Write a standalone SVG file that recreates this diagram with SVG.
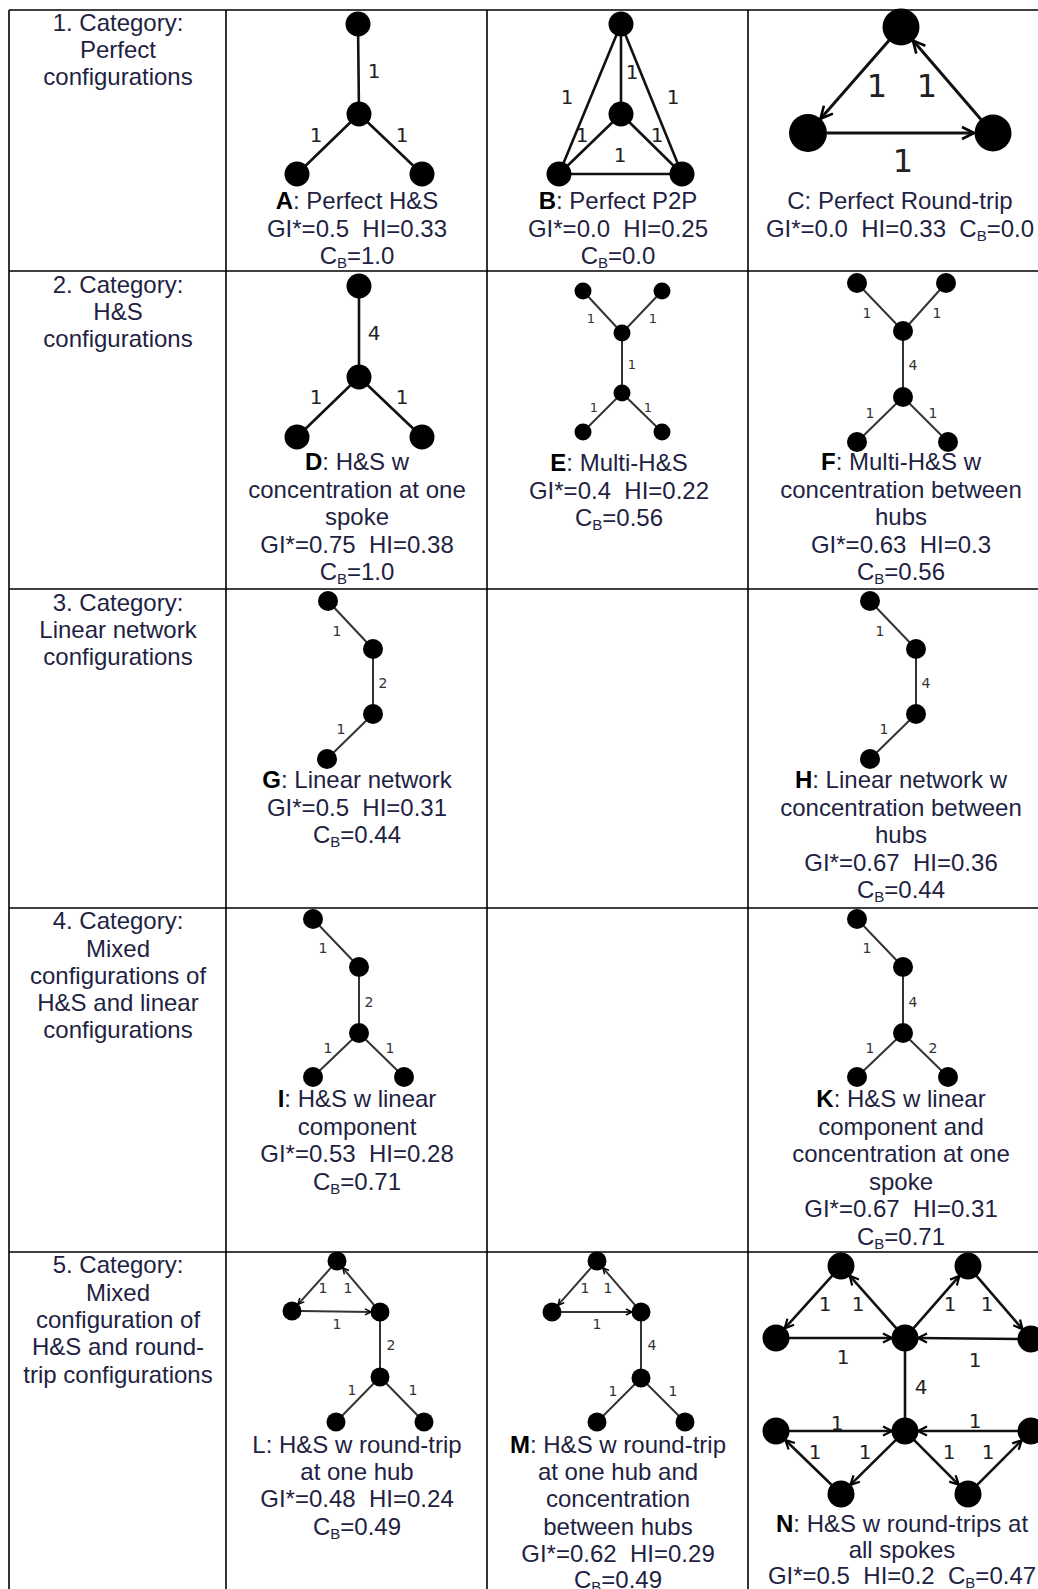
<svg xmlns="http://www.w3.org/2000/svg" width="1038" height="1589" viewBox="0 0 1038 1589">
<style>
.grid{stroke:#000;stroke-width:1.6;fill:none}
.cap{font-family:"Liberation Sans",Arial,sans-serif;font-size:24px;fill:#221f42;text-anchor:middle;white-space:pre}
.b{font-weight:bold;fill:#000}
.sub{font-size:15px}
.n{fill:#000}
.e1{stroke:#111;stroke-width:2.6;fill:none}
.e2{stroke:#333;stroke-width:2;fill:none}
.e3{stroke:#111;stroke-width:3;fill:none}
.lb{font-family:"DejaVu Sans",sans-serif;text-anchor:middle;fill:#222}
.l20{font-size:20px}
.l13{font-size:13px;fill:#333}
.l14{font-size:14px;fill:#333}
.l32{font-size:32px}
</style>
<defs>
<marker id="arL" markerWidth="16" markerHeight="16" refX="13" refY="7" orient="auto" markerUnits="userSpaceOnUse" overflow="visible"><path d="M1,1 L13,7 L1,13" fill="none" stroke="#000" stroke-width="2.6"/></marker>
<marker id="arM" markerWidth="12" markerHeight="12" refX="10" refY="5.5" orient="auto" markerUnits="userSpaceOnUse" overflow="visible"><path d="M1,1 L10,5.5 L1,10" fill="none" stroke="#000" stroke-width="2.2"/></marker>
<marker id="arS" markerWidth="9" markerHeight="9" refX="7" refY="4" orient="auto" markerUnits="userSpaceOnUse" overflow="visible"><path d="M1,1 L7,4 L1,7" fill="none" stroke="#000" stroke-width="1.5"/></marker>
</defs>
<rect width="1038" height="1589" fill="#fff"/>
<g id="grid" class="grid">
<line x1="9" y1="10" x2="1038" y2="10"/>
<line x1="9" y1="271" x2="1038" y2="271"/>
<line x1="9" y1="589" x2="1038" y2="589"/>
<line x1="9" y1="908" x2="1038" y2="908"/>
<line x1="9" y1="1252" x2="1038" y2="1252"/>
<line x1="9" y1="10" x2="9" y2="1589"/>
<line x1="226" y1="10" x2="226" y2="1589"/>
<line x1="487" y1="10" x2="487" y2="1589"/>
<line x1="748" y1="10" x2="748" y2="1589"/>
</g>
<g id="categories" class="cap">
<text><tspan x="118" y="31">1. Category:</tspan><tspan x="118" y="58">Perfect</tspan><tspan x="118" y="85">configurations</tspan></text>
<text><tspan x="118" y="293">2. Category:</tspan><tspan x="118" y="320">H&amp;S</tspan><tspan x="118" y="347">configurations</tspan></text>
<text><tspan x="118" y="611">3. Category:</tspan><tspan x="118" y="638">Linear network</tspan><tspan x="118" y="665">configurations</tspan></text>
<text><tspan x="118" y="929">4. Category:</tspan><tspan x="118" y="957">Mixed</tspan><tspan x="118" y="984">configurations of</tspan><tspan x="118" y="1011">H&amp;S and linear</tspan><tspan x="118" y="1038">configurations</tspan></text>
<text><tspan x="118" y="1273">5. Category:</tspan><tspan x="118" y="1301">Mixed</tspan><tspan x="118" y="1328">configuration of</tspan><tspan x="118" y="1355">H&amp;S and round-</tspan><tspan x="118" y="1383">trip configurations</tspan></text>
</g>
<g id="connectors">
<g id="edges-A" class="e1"><line x1="358" y1="24" x2="359" y2="114"/><line x1="359" y1="114" x2="297" y2="174"/><line x1="359" y1="114" x2="422" y2="174"/></g>
<g id="edges-B" class="e1"><line x1="621" y1="24" x2="621" y2="114"/><line x1="621" y1="24" x2="559" y2="174"/><line x1="621" y1="24" x2="682" y2="174"/><line x1="621" y1="114" x2="559" y2="174"/><line x1="621" y1="114" x2="682" y2="174"/><line x1="559" y1="174" x2="682" y2="174"/></g>
<g id="edges-C" class="e3"><line x1="889" y1="40.5" x2="820.5" y2="118.7" marker-end="url(#arL)"/><line x1="827" y1="133" x2="974" y2="133" marker-end="url(#arL)"/><line x1="981" y1="119.4" x2="913" y2="40.6" marker-end="url(#arL)"/></g>
<g id="edges-D" class="e1"><line x1="359" y1="286" x2="359" y2="377"/><line x1="359" y1="377" x2="297" y2="437"/><line x1="359" y1="377" x2="422" y2="437"/></g>
<g id="edges-E" class="e2"><line x1="583" y1="291" x2="622" y2="333"/><line x1="662" y1="291" x2="622" y2="333"/><line x1="622" y1="333" x2="622" y2="393"/><line x1="622" y1="393" x2="583" y2="432"/><line x1="622" y1="393" x2="662" y2="432"/></g>
<g id="edges-F" class="e2"><line x1="857" y1="283" x2="903" y2="331"/><line x1="946" y1="283" x2="903" y2="331"/><line x1="903" y1="331" x2="903" y2="397"/><line x1="903" y1="397" x2="857" y2="442"/><line x1="903" y1="397" x2="948" y2="442"/></g>
<g id="edges-G" class="e2"><line x1="328" y1="601" x2="373" y2="649"/><line x1="373" y1="649" x2="373" y2="714"/><line x1="373" y1="714" x2="327" y2="759"/></g>
<g id="edges-H" class="e2"><line x1="870" y1="601" x2="916" y2="649"/><line x1="916" y1="649" x2="916" y2="714"/><line x1="916" y1="714" x2="870" y2="759"/></g>
<g id="edges-I" class="e2"><line x1="313" y1="919" x2="359" y2="967"/><line x1="359" y1="967" x2="359" y2="1033"/><line x1="359" y1="1033" x2="313" y2="1077"/><line x1="359" y1="1033" x2="404" y2="1077"/></g>
<g id="edges-K" class="e2"><line x1="857" y1="919" x2="903" y2="967"/><line x1="903" y1="967" x2="903" y2="1033"/><line x1="903" y1="1033" x2="857" y2="1077"/><line x1="903" y1="1033" x2="948" y2="1077"/></g>
<g id="edges-L" class="e2"><line x1="331" y1="1267.7" x2="298" y2="1304.3" marker-end="url(#arS)"/><line x1="301" y1="1311.1" x2="371" y2="1311.9" marker-end="url(#arS)"/><line x1="374.2" y1="1305.1" x2="342.8" y2="1267.9" marker-end="url(#arS)"/><line x1="380" y1="1312" x2="380" y2="1377"/><line x1="380" y1="1377" x2="336" y2="1422"/><line x1="380" y1="1377" x2="424" y2="1422"/></g>
<g id="edges-M" class="e2"><line x1="591" y1="1267.8" x2="558" y2="1305.2" marker-end="url(#arS)"/><line x1="561" y1="1312" x2="632" y2="1312" marker-end="url(#arS)"/><line x1="635.1" y1="1305.2" x2="602.9" y2="1267.8" marker-end="url(#arS)"/><line x1="641" y1="1312" x2="641" y2="1378"/><line x1="641" y1="1378" x2="597" y2="1422"/><line x1="641" y1="1378" x2="685" y2="1422"/></g>
<g id="edges-N" class="e1">
<line x1="832.3" y1="1275.6" x2="784.7" y2="1328.4" marker-end="url(#arM)"/>
<line x1="789" y1="1338" x2="892" y2="1338" marker-end="url(#arM)"/>
<line x1="896.4" y1="1328.3" x2="849.6" y2="1275.7" marker-end="url(#arM)"/>
<line x1="913.6" y1="1328.2" x2="959.4" y2="1275.8" marker-end="url(#arM)"/>
<line x1="976.5" y1="1275.8" x2="1022.5" y2="1329.2" marker-end="url(#arM)"/>
<line x1="1018" y1="1339" x2="918" y2="1338" marker-end="url(#arM)"/>
<line x1="905" y1="1338" x2="905" y2="1431"/>
<line x1="789" y1="1431" x2="892" y2="1431" marker-end="url(#arM)"/>
<line x1="895.7" y1="1440.1" x2="850.3" y2="1484.9" marker-end="url(#arM)"/>
<line x1="831.7" y1="1485" x2="785.3" y2="1440" marker-end="url(#arM)"/>
<line x1="1018" y1="1431" x2="918" y2="1431" marker-end="url(#arM)"/>
<line x1="914.2" y1="1440.2" x2="958.8" y2="1484.8" marker-end="url(#arM)"/>
<line x1="977.2" y1="1484.8" x2="1021.8" y2="1440.2" marker-end="url(#arM)"/>
</g>
</g>
<g id="panel-A">
<g class="n"><circle id="A1" cx="358" cy="24" r="12.5"/><circle id="A2" cx="359" cy="114" r="12.5"/><circle id="A3" cx="297" cy="174" r="12.5"/><circle id="A4" cx="422" cy="174" r="12.5"/></g>
<g class="lb l20"><text x="374" y="78">1</text><text x="316" y="142">1</text><text x="402" y="142">1</text></g>
<text class="cap"><tspan x="357" y="209"><tspan class="b">A</tspan>: Perfect H&amp;S</tspan><tspan x="357" y="236.5">GI*=0.5  HI=0.33</tspan><tspan x="357" y="264">C<tspan class="sub" dy="4">B</tspan><tspan dy="-4">=1.0</tspan></tspan></text>
</g>
<g id="panel-B">
<g class="n"><circle id="B1" cx="621" cy="24" r="12.5"/><circle id="B2" cx="621" cy="114" r="12.5"/><circle id="B3" cx="559" cy="174" r="12.5"/><circle id="B4" cx="682" cy="174" r="12.5"/></g>
<g class="lb l20"><text x="632" y="79">1</text><text x="567" y="104">1</text><text x="673" y="104">1</text><text x="582" y="142">1</text><text x="657" y="142">1</text><text x="620" y="162">1</text></g>
<text class="cap"><tspan x="618" y="209"><tspan class="b">B</tspan>: Perfect P2P</tspan><tspan x="618" y="236.5">GI*=0.0  HI=0.25</tspan><tspan x="618" y="264">C<tspan class="sub" dy="4">B</tspan><tspan dy="-4">=0.0</tspan></tspan></text>
</g>
<g id="panel-C">
<g class="n"><circle id="C1" cx="901" cy="27" r="18.5"/><circle id="C2" cx="808" cy="133" r="19"/><circle id="C3" cx="993" cy="133" r="18.5"/></g>
<g class="lb l32"><text x="877" y="96.5">1</text><text x="927" y="96.5">1</text><text x="903" y="171.5">1</text></g>
<text class="cap"><tspan x="900" y="209">C: Perfect Round-trip</tspan><tspan x="900" y="236.5">GI*=0.0  HI=0.33  C<tspan class="sub" dy="4">B</tspan><tspan dy="-4">=0.0</tspan></tspan></text>
</g>
<g id="panel-D">
<g class="n"><circle id="D1" cx="359" cy="286" r="12.5"/><circle id="D2" cx="359" cy="377" r="12.5"/><circle id="D3" cx="297" cy="437" r="12.5"/><circle id="D4" cx="422" cy="437" r="12.5"/></g>
<g class="lb l20"><text x="374" y="340">4</text><text x="316" y="404">1</text><text x="402" y="404">1</text></g>
<text class="cap"><tspan x="357" y="470"><tspan class="b">D</tspan>: H&amp;S w</tspan><tspan x="357" y="497.5">concentration at one</tspan><tspan x="357" y="525">spoke</tspan><tspan x="357" y="552.5">GI*=0.75  HI=0.38</tspan><tspan x="357" y="580">C<tspan class="sub" dy="4">B</tspan><tspan dy="-4">=1.0</tspan></tspan></text>
</g>
<g id="panel-E">
<g class="n"><circle id="E1" cx="583" cy="291" r="8.5"/><circle id="E2" cx="662" cy="291" r="8.5"/><circle id="E3" cx="622" cy="333" r="8.5"/><circle id="E4" cx="622" cy="393" r="8.5"/><circle id="E5" cx="583" cy="432" r="8.5"/><circle id="E6" cx="662" cy="432" r="8.5"/></g>
<g class="lb l13"><text x="591" y="323">1</text><text x="653" y="323">1</text><text x="632" y="369">1</text><text x="594" y="412">1</text><text x="648" y="412">1</text></g>
<text class="cap"><tspan x="619" y="471"><tspan class="b">E</tspan>: Multi-H&amp;S</tspan><tspan x="619" y="498.5">GI*=0.4  HI=0.22</tspan><tspan x="619" y="526">C<tspan class="sub" dy="4">B</tspan><tspan dy="-4">=0.56</tspan></tspan></text>
</g>
<g id="panel-F">
<g class="n"><circle id="F1" cx="857" cy="283" r="10"/><circle id="F2" cx="946" cy="283" r="10"/><circle id="F3" cx="903" cy="331" r="10"/><circle id="F4" cx="903" cy="397" r="10"/><circle id="F5" cx="857" cy="442" r="10"/><circle id="F6" cx="948" cy="442" r="10"/></g>
<g class="lb l14"><text x="867" y="318">1</text><text x="937" y="318">1</text><text x="913" y="370">4</text><text x="870" y="418">1</text><text x="933" y="418">1</text></g>
<text class="cap"><tspan x="901" y="470"><tspan class="b">F</tspan>: Multi-H&amp;S w</tspan><tspan x="901" y="497.5">concentration between</tspan><tspan x="901" y="525">hubs</tspan><tspan x="901" y="552.5">GI*=0.63  HI=0.3</tspan><tspan x="901" y="580">C<tspan class="sub" dy="4">B</tspan><tspan dy="-4">=0.56</tspan></tspan></text>
</g>
<g id="panel-G">
<g class="n"><circle id="G1" cx="328" cy="601" r="10"/><circle id="G2" cx="373" cy="649" r="10"/><circle id="G3" cx="373" cy="714" r="10"/><circle id="G4" cx="327" cy="759" r="10"/></g>
<g class="lb l14"><text x="337" y="636">1</text><text x="383" y="688">2</text><text x="341" y="734">1</text></g>
<text class="cap"><tspan x="357" y="788"><tspan class="b">G</tspan>: Linear network</tspan><tspan x="357" y="816">GI*=0.5  HI=0.31</tspan><tspan x="357" y="843">C<tspan class="sub" dy="4">B</tspan><tspan dy="-4">=0.44</tspan></tspan></text>
</g>
<g id="panel-H">
<g class="n"><circle id="H1" cx="870" cy="601" r="10"/><circle id="H2" cx="916" cy="649" r="10"/><circle id="H3" cx="916" cy="714" r="10"/><circle id="H4" cx="870" cy="759" r="10"/></g>
<g class="lb l14"><text x="880" y="636">1</text><text x="926" y="688">4</text><text x="884" y="734">1</text></g>
<text class="cap"><tspan x="901" y="788"><tspan class="b">H</tspan>: Linear network w</tspan><tspan x="901" y="816">concentration between</tspan><tspan x="901" y="843">hubs</tspan><tspan x="901" y="871">GI*=0.67  HI=0.36</tspan><tspan x="901" y="898">C<tspan class="sub" dy="4">B</tspan><tspan dy="-4">=0.44</tspan></tspan></text>
</g>
<g id="panel-I">
<g class="n"><circle id="I1" cx="313" cy="919" r="10"/><circle id="I2" cx="359" cy="967" r="10"/><circle id="I3" cx="359" cy="1033" r="10"/><circle id="I4" cx="313" cy="1077" r="10"/><circle id="I5" cx="404" cy="1077" r="10"/></g>
<g class="lb l14"><text x="323" y="953">1</text><text x="369" y="1007">2</text><text x="328" y="1053">1</text><text x="390" y="1053">1</text></g>
<text class="cap"><tspan x="357" y="1107"><tspan class="b">I</tspan>: H&amp;S w linear</tspan><tspan x="357" y="1135">component</tspan><tspan x="357" y="1162">GI*=0.53  HI=0.28</tspan><tspan x="357" y="1190">C<tspan class="sub" dy="4">B</tspan><tspan dy="-4">=0.71</tspan></tspan></text>
</g>
<g id="panel-K">
<g class="n"><circle id="K1" cx="857" cy="919" r="10"/><circle id="K2" cx="903" cy="967" r="10"/><circle id="K3" cx="903" cy="1033" r="10"/><circle id="K4" cx="857" cy="1077" r="10"/><circle id="K5" cx="948" cy="1077" r="10"/></g>
<g class="lb l14"><text x="867" y="953">1</text><text x="913" y="1007">4</text><text x="870" y="1053">1</text><text x="933" y="1053">2</text></g>
<text class="cap"><tspan x="901" y="1107"><tspan class="b">K</tspan>: H&amp;S w linear</tspan><tspan x="901" y="1135">component and</tspan><tspan x="901" y="1162">concentration at one</tspan><tspan x="901" y="1190">spoke</tspan><tspan x="901" y="1217">GI*=0.67  HI=0.31</tspan><tspan x="901" y="1245">C<tspan class="sub" dy="4">B</tspan><tspan dy="-4">=0.71</tspan></tspan></text>
</g>
<g id="panel-L">
<g class="n"><circle id="L1" cx="337" cy="1261" r="9.5"/><circle id="L2" cx="292" cy="1311" r="9.5"/><circle id="L3" cx="380" cy="1312" r="9.5"/><circle id="L4" cx="380" cy="1377" r="9.5"/><circle id="L5" cx="336" cy="1422" r="9.5"/><circle id="L6" cx="424" cy="1422" r="9.5"/></g>
<g class="lb l14"><text x="323" y="1293">1</text><text x="348" y="1293">1</text><text x="337" y="1329">1</text><text x="391" y="1350">2</text><text x="352" y="1395">1</text><text x="413" y="1395">1</text></g>
<text class="cap"><tspan x="357" y="1453">L: H&amp;S w round-trip</tspan><tspan x="357" y="1480">at one hub</tspan><tspan x="357" y="1507">GI*=0.48  HI=0.24</tspan><tspan x="357" y="1535">C<tspan class="sub" dy="4">B</tspan><tspan dy="-4">=0.49</tspan></tspan></text>
</g>
<g id="panel-M">
<g class="n"><circle id="M1" cx="597" cy="1261" r="9.5"/><circle id="M2" cx="552" cy="1312" r="9.5"/><circle id="M3" cx="641" cy="1312" r="9.5"/><circle id="M4" cx="641" cy="1378" r="9.5"/><circle id="M5" cx="597" cy="1422" r="9.5"/><circle id="M6" cx="685" cy="1422" r="9.5"/></g>
<g class="lb l14"><text x="585" y="1293">1</text><text x="608" y="1293">1</text><text x="597" y="1329">1</text><text x="652" y="1350">4</text><text x="613" y="1396">1</text><text x="673" y="1396">1</text></g>
<text class="cap"><tspan x="618" y="1453"><tspan class="b">M</tspan>: H&amp;S w round-trip</tspan><tspan x="618" y="1480">at one hub and</tspan><tspan x="618" y="1507">concentration</tspan><tspan x="618" y="1535">between hubs</tspan><tspan x="618" y="1562">GI*=0.62  HI=0.29</tspan><tspan x="618" y="1588">C<tspan class="sub" dy="4">B</tspan><tspan dy="-4">=0.49</tspan></tspan></text>
</g>
<g id="panel-N">
<g class="n"><circle id="N1" cx="841" cy="1266" r="13.5"/><circle id="N2" cx="968" cy="1266" r="13.5"/><circle id="N3" cx="776" cy="1338" r="13.5"/><circle id="N4" cx="905" cy="1338" r="13.5"/><circle id="N5" cx="1031" cy="1339" r="13.5"/><circle id="N6" cx="776" cy="1431" r="13.5"/><circle id="N7" cx="905" cy="1431" r="13.5"/><circle id="N8" cx="1031" cy="1431" r="13.5"/><circle id="N9" cx="841" cy="1494" r="13.5"/><circle id="N10" cx="968" cy="1494" r="13.5"/></g>
<g class="lb l20"><text x="825" y="1311">1</text><text x="858" y="1311">1</text><text x="843" y="1364">1</text><text x="950" y="1311">1</text><text x="987" y="1311">1</text><text x="975" y="1367">1</text><text x="921" y="1394">4</text><text x="837" y="1430">1</text><text x="815" y="1459">1</text><text x="865" y="1459">1</text><text x="975" y="1428">1</text><text x="949" y="1459">1</text><text x="988" y="1459">1</text></g>
<text class="cap"><tspan x="902" y="1532"><tspan class="b">N</tspan>: H&amp;S w round-trips at</tspan><tspan x="902" y="1558">all spokes</tspan><tspan x="902" y="1584">GI*=0.5  HI=0.2  C<tspan class="sub" dy="4">B</tspan><tspan dy="-4">=0.47</tspan></tspan></text>
</g>
</svg>
